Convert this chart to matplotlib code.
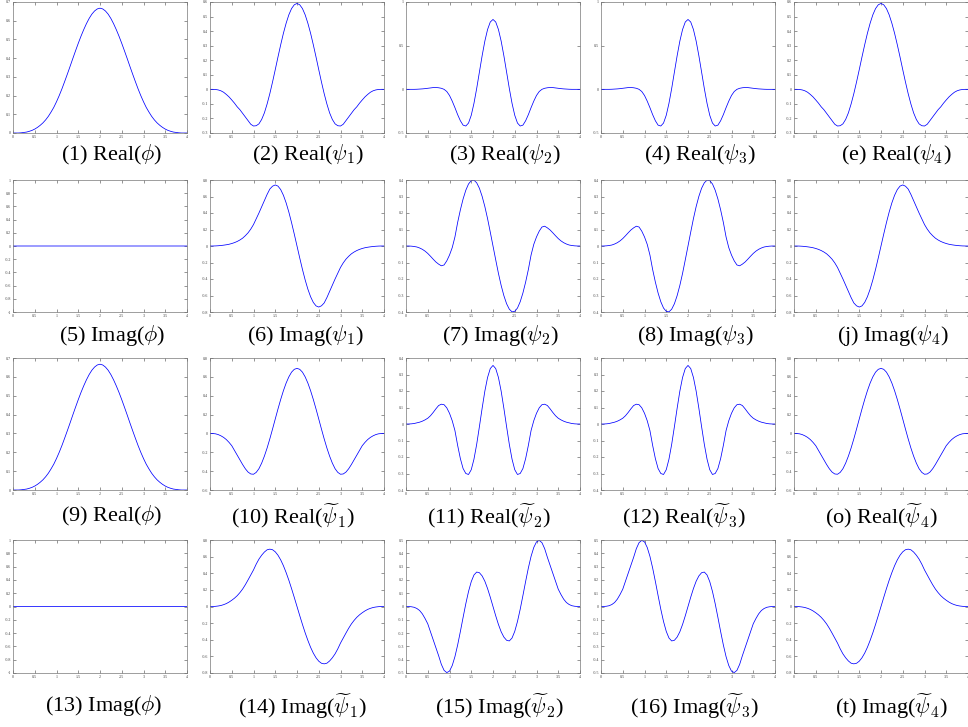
import matplotlib
matplotlib.use("Agg")
import matplotlib.pyplot as plt
import numpy as np
from matplotlib.ticker import FormatStrFormatter

plt.rcParams['font.family'] = ['Liberation Serif', 'DejaVu Serif']
plt.rcParams['mathtext.fontset'] = 'cm'

# sample grid on [0, 4], step 0.0625
x_grid = np.arange(65) * 0.0625

real_phi = [0, 0, 0, 0.001, 0.003, 0.005, 0.009, 0.014, 0.021, 0.030, 0.041, 0.054, 0.070,
            0.089, 0.112, 0.137, 0.167, 0.200, 0.236, 0.275, 0.315, 0.356, 0.398, 0.439,
            0.479, 0.517, 0.552, 0.584, 0.612, 0.635, 0.652, 0.663, 0.667,
            0.663, 0.652, 0.635, 0.612, 0.584, 0.552, 0.517, 0.479, 0.439, 0.398, 0.356,
            0.315, 0.275, 0.236, 0.200, 0.167, 0.137, 0.112, 0.089, 0.070, 0.054, 0.041,
            0.030, 0.021, 0.014, 0.009, 0.005, 0.003, 0.001, 0, 0, 0]
imag_phi = [0.0] * 65

real_psi1 = [0, 0, -0.001, -0.004, -0.01, -0.02, -0.035, -0.052, -0.073, -0.095, -0.12, -0.14,
             -0.165, -0.19, -0.215, -0.24, -0.252, -0.25, -0.237, -0.207, -0.162, -0.101, -0.03,
             0.05, 0.135, 0.222, 0.306, 0.385, 0.454, 0.512, 0.555, 0.581, 0.59,
             0.581, 0.555, 0.512, 0.454, 0.385, 0.306, 0.222, 0.135, 0.05, -0.03, -0.101,
             -0.162, -0.207, -0.237, -0.25, -0.252, -0.24, -0.215, -0.19, -0.165, -0.14, -0.12,
             -0.095, -0.073, -0.052, -0.035, -0.02, -0.01, -0.004, -0.001, 0, 0]
real_psi2 = [0, 0, 0, 0, 0.001, 0.003, 0.005, 0.008, 0.012, 0.016, 0.02, 0.021, 0.018, 0.012,
             0.0, -0.025, -0.07, -0.135, -0.21, -0.29, -0.36, -0.41, -0.42, -0.386, -0.297,
             -0.16, 0.01, 0.198, 0.384, 0.552, 0.685, 0.771, 0.80,
             0.771, 0.685, 0.552, 0.384, 0.198, 0.01, -0.16, -0.297, -0.386, -0.42, -0.41,
             -0.36, -0.29, -0.21, -0.135, -0.07, -0.025, 0.0, 0.012, 0.018, 0.021, 0.02, 0.016,
             0.012, 0.008, 0.005, 0.003, 0.001, 0, 0, 0, 0]
real_psi3 = real_psi2
real_psi4 = real_psi1

imag_psi1 = [0, 0, 0.001, 0.003, 0.006, 0.01, 0.015, 0.021, 0.03, 0.041, 0.055, 0.073, 0.095,
             0.125, 0.16, 0.205, 0.26, 0.33, 0.40, 0.475, 0.55, 0.625, 0.69, 0.725, 0.74, 0.726,
             0.684, 0.615, 0.523, 0.411, 0.283, 0.144, 0,
             -0.144, -0.283, -0.411, -0.523, -0.615, -0.684, -0.726, -0.74, -0.725, -0.69,
             -0.625, -0.55, -0.475, -0.40, -0.33, -0.26, -0.205, -0.16, -0.125, -0.095, -0.073,
             -0.055, -0.041, -0.03, -0.021, -0.015, -0.01, -0.006, -0.003, -0.001, 0, 0]
imag_psi2 = [0, 0, -0.001, -0.003, -0.006, -0.012, -0.02, -0.031, -0.045, -0.062, -0.08, -0.097,
             -0.11, -0.12, -0.115, -0.09, -0.055, -0.01, 0.055, 0.143, 0.219, 0.285, 0.338,
             0.376, 0.396, 0.399, 0.383, 0.35, 0.301, 0.239, 0.166, 0.084, 0,
             -0.084, -0.166, -0.239, -0.301, -0.35, -0.383, -0.399, -0.396, -0.376, -0.338,
             -0.285, -0.219, -0.143, -0.055, 0.01, 0.055, 0.09, 0.115, 0.12, 0.11, 0.097, 0.08,
             0.062, 0.045, 0.031, 0.02, 0.012, 0.006, 0.003, 0.001, 0, 0]
imag_psi3 = [0, 0, 0.001, 0.003, 0.006, 0.012, 0.02, 0.031, 0.045, 0.062, 0.08, 0.097, 0.11,
             0.12, 0.115, 0.09, 0.055, 0.01, -0.055, -0.143, -0.219, -0.285, -0.338, -0.376,
             -0.396, -0.399, -0.383, -0.35, -0.301, -0.239, -0.166, -0.084, 0,
             0.084, 0.166, 0.239, 0.301, 0.35, 0.383, 0.399, 0.396, 0.376, 0.338, 0.285, 0.219,
             0.143, 0.055, -0.01, -0.055, -0.09, -0.115, -0.12, -0.11, -0.097, -0.08, -0.062,
             -0.045, -0.031, -0.02, -0.012, -0.006, -0.003, -0.001, 0, 0]
imag_psi4 = [0, 0, -0.001, -0.003, -0.006, -0.01, -0.015, -0.021, -0.03, -0.041, -0.055, -0.073,
             -0.095, -0.125, -0.16, -0.205, -0.26, -0.33, -0.40, -0.475, -0.55, -0.625, -0.69,
             -0.725, -0.74, -0.726, -0.684, -0.615, -0.523, -0.411, -0.283, -0.144, 0,
             0.144, 0.283, 0.411, 0.523, 0.615, 0.684, 0.726, 0.74, 0.725, 0.69, 0.625, 0.55,
             0.475, 0.40, 0.33, 0.26, 0.205, 0.16, 0.125, 0.095, 0.073, 0.055, 0.041, 0.03,
             0.021, 0.015, 0.01, 0.006, 0.003, 0.001, 0, 0]

real_tpsi1 = [0, -0.001, -0.004, -0.012, -0.025, -0.042, -0.065, -0.095, -0.13, -0.18, -0.23,
              -0.28, -0.33, -0.375, -0.41, -0.43, -0.433, -0.413, -0.374, -0.315, -0.241, -0.155,
              -0.058, 0.046, 0.153, 0.259, 0.36, 0.453, 0.534, 0.6, 0.65, 0.68, 0.69,
              0.68, 0.65, 0.6, 0.534, 0.453, 0.36, 0.259, 0.153, 0.046, -0.058, -0.155, -0.241,
              -0.315, -0.374, -0.413, -0.433, -0.43, -0.41, -0.375, -0.33, -0.28, -0.23, -0.18,
              -0.13, -0.095, -0.065, -0.042, -0.025, -0.012, -0.004, -0.001, 0]
real_tpsi2 = [0, 0, 0.001, 0.003, 0.007, 0.011, 0.017, 0.025, 0.035, 0.05, 0.07, 0.092, 0.112,
              0.12, 0.117, 0.098, 0.065, 0.02, -0.04, -0.13, -0.21, -0.27, -0.30, -0.306,
              -0.277, -0.213, -0.123, -0.016, 0.095, 0.199, 0.282, 0.336, 0.355,
              0.336, 0.282, 0.199, 0.095, -0.016, -0.123, -0.213, -0.277, -0.306, -0.30, -0.27,
              -0.21, -0.13, -0.04, 0.02, 0.065, 0.098, 0.117, 0.12, 0.112, 0.092, 0.07, 0.05,
              0.035, 0.025, 0.017, 0.011, 0.007, 0.003, 0.001, 0, 0]
real_tpsi3 = real_tpsi2
real_tpsi4 = real_tpsi1

imag_tpsi1 = [0, 0, 0.002, 0.006, 0.012, 0.022, 0.035, 0.053, 0.075, 0.1, 0.13, 0.167, 0.21,
              0.262, 0.32, 0.38, 0.44, 0.51, 0.57, 0.617, 0.655, 0.682, 0.69, 0.683, 0.658,
              0.617, 0.561, 0.491, 0.408, 0.316, 0.215, 0.109, 0,
              -0.109, -0.215, -0.316, -0.408, -0.491, -0.561, -0.617, -0.658, -0.683, -0.69,
              -0.682, -0.655, -0.617, -0.57, -0.51, -0.44, -0.38, -0.32, -0.262, -0.21, -0.167,
              -0.13, -0.1, -0.075, -0.053, -0.035, -0.022, -0.012, -0.006, -0.002, 0, 0]
imag_tpsi2 = [0, 0, -0.002, -0.006, -0.015, -0.03, -0.055, -0.09, -0.13, -0.19, -0.25, -0.31,
              -0.37, -0.435, -0.48, -0.497, -0.486, -0.444, -0.377, -0.289, -0.188, -0.082,
              0.021, 0.113, 0.187, 0.237, 0.259, 0.254, 0.23, 0.19, 0.135, 0.07, 0,
              -0.07, -0.135, -0.19, -0.23, -0.254, -0.259, -0.237, -0.187, -0.113, -0.021,
              0.082, 0.188, 0.289, 0.377, 0.444, 0.486, 0.497, 0.48, 0.435, 0.37, 0.31, 0.25,
              0.19, 0.13, 0.09, 0.055, 0.03, 0.015, 0.006, 0.002, 0, 0]
imag_tpsi3 = [0, 0, 0.002, 0.006, 0.015, 0.03, 0.055, 0.09, 0.13, 0.19, 0.25, 0.31, 0.37,
              0.435, 0.48, 0.497, 0.486, 0.444, 0.377, 0.289, 0.188, 0.082, -0.021, -0.113,
              -0.187, -0.237, -0.259, -0.254, -0.23, -0.19, -0.135, -0.07, 0,
              0.07, 0.135, 0.19, 0.23, 0.254, 0.259, 0.237, 0.187, 0.113, 0.021, -0.082,
              -0.188, -0.289, -0.377, -0.444, -0.486, -0.497, -0.48, -0.435, -0.37, -0.31,
              -0.25, -0.19, -0.13, -0.09, -0.055, -0.03, -0.015, -0.006, -0.002, 0, 0]
imag_tpsi4 = [0, 0, -0.002, -0.006, -0.012, -0.022, -0.035, -0.053, -0.075, -0.1, -0.13, -0.167,
              -0.21, -0.262, -0.32, -0.38, -0.44, -0.51, -0.57, -0.617, -0.655, -0.682, -0.69,
              -0.683, -0.658, -0.617, -0.561, -0.491, -0.408, -0.316, -0.215, -0.109, 0,
              0.109, 0.215, 0.316, 0.408, 0.491, 0.561, 0.617, 0.658, 0.683, 0.69, 0.682, 0.655,
              0.617, 0.57, 0.51, 0.44, 0.38, 0.32, 0.262, 0.21, 0.167, 0.13, 0.1, 0.075, 0.053,
              0.035, 0.022, 0.012, 0.006, 0.002, 0, 0]

series = [
    [real_phi, real_psi1, real_psi2, real_psi3, real_psi4],
    [imag_phi, imag_psi1, imag_psi2, imag_psi3, imag_psi4],
    [real_phi, real_tpsi1, real_tpsi2, real_tpsi3, real_tpsi4],
    [imag_phi, imag_tpsi1, imag_tpsi2, imag_tpsi3, imag_tpsi4],
]

# (ymin, ymax, tick step) per panel
y_axes = [
    [(0, 0.7, 0.1), (-0.3, 0.6, 0.1), (-0.5, 1, 0.5), (-0.5, 1, 0.5), (-0.3, 0.6, 0.1)],
    [(-1, 1, 0.2), (-0.8, 0.8, 0.2), (-0.4, 0.4, 0.1), (-0.4, 0.4, 0.1), (-0.8, 0.8, 0.2)],
    [(0, 0.7, 0.1), (-0.6, 0.8, 0.2), (-0.4, 0.4, 0.1), (-0.4, 0.4, 0.1), (-0.6, 0.8, 0.2)],
    [(-1, 1, 0.2), (-0.8, 0.8, 0.2), (-0.5, 0.5, 0.1), (-0.5, 0.5, 0.1), (-0.8, 0.8, 0.2)],
]

labels = [
    [r"(1) Real($\phi$)", r"(2) Real($\psi_1$)", r"(3) Real($\psi_2$)",
     r"(4) Real($\psi_3$)", r"(e) Real($\psi_4$)"],
    [r"(5) Imag($\phi$)", r"(6) Imag($\psi_1$)", r"(7) Imag($\psi_2$)",
     r"(8) Imag($\psi_3$)", r"(j) Imag($\psi_4$)"],
    [r"(9) Real($\phi$)", r"(10) Real($\widetilde{\psi}_1$)", r"(11) Real($\widetilde{\psi}_2$)",
     r"(12) Real($\widetilde{\psi}_3$)", r"(o) Real($\widetilde{\psi}_4$)"],
    [r"(13) Imag($\phi$)", r"(14) Imag($\widetilde{\psi}_1$)", r"(15) Imag($\widetilde{\psi}_2$)",
     r"(16) Imag($\widetilde{\psi}_3$)", r"(t) Imag($\widetilde{\psi}_4$)"],
]

W, H = 968, 727
fig = plt.figure(figsize=(W / 100, H / 100), dpi=100)

# layout in pixels
col_left = [13, 210, 406, 601, 794]
col_w = 174
row_top = [2, 180, 358, 540]
row_h = [131, 132, 132, 133]
label_y = [155, 336, 516, 706]
label_x = [[112, 308, 505, 700, 896],
           [112, 305, 500, 695, 893],
           [112, 293, 489, 684, 881],
           [104, 302, 499, 694, 891]]

for r in range(4):
    for c in range(5):
        left = col_left[c] / W
        bottom = 1 - (row_top[r] + row_h[r]) / H
        ax = fig.add_axes([left, bottom, col_w / W, row_h[r] / H])
        ax.plot(x_grid, series[r][c], color='#0000ff', lw=0.55, snap=False)
        y0, y1, step = y_axes[r][c]
        ax.set_xlim(0, 4)
        ax.set_ylim(y0, y1)
        ax.set_xticks(np.arange(0, 4.01, 0.5))
        yt = np.round(np.arange(y0, y1 + step / 2, step), 3) + 0.0
        ax.set_yticks(yt)
        ax.xaxis.set_major_formatter(FormatStrFormatter('%g'))
        ax.yaxis.set_major_formatter(FormatStrFormatter('%g'))
        ax.tick_params(direction='in', length=2, width=0.4, labelsize=3, pad=1.5,
                       top=True, right=True, colors='#444444')
        for s in ax.spines.values():
            s.set_linewidth(0.5)
            s.set_color('#777777')
        fig.text(label_x[r][c] / W, 1 - label_y[r] / H, labels[r][c],
                 ha='center', va='center', fontsize=16)

fig.savefig("out.png", dpi=100)
